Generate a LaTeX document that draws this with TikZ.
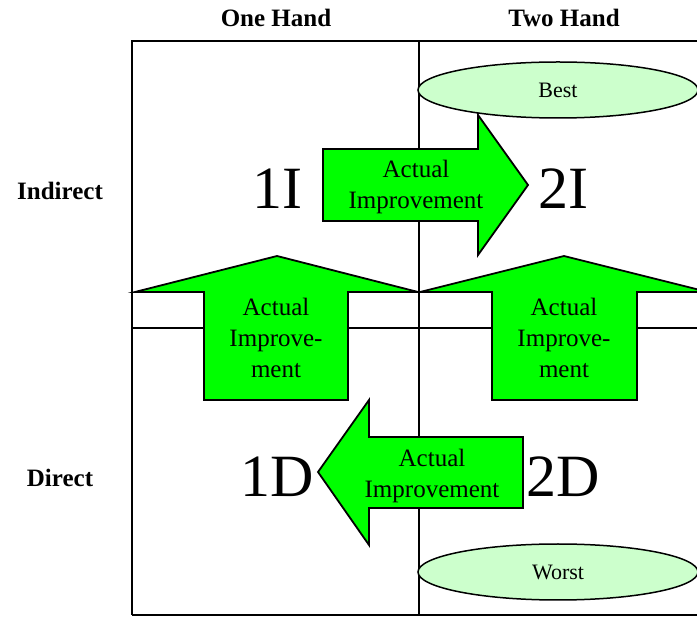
\documentclass[tikz,border=0pt]{standalone}
\usepackage{fontspec}
\setmainfont{Liberation Serif}
\definecolor{arrowgreen}{RGB}{0,255,0}
\definecolor{palegreen}{RGB}{204,255,204}
\tikzset{
  gridline/.style={line width=1.5pt},
  bigarrow/.style={draw, line width=1.8pt, fill=arrowgreen, line join=miter},
  arrowtext/.style={align=center, font=\fontsize{25}{31}\selectfont, inner sep=0pt},
  headlabel/.style={font=\fontsize{25}{30}\selectfont\bfseries},
  celllabel/.style={font=\fontsize{60}{60}\selectfont},
  rank/.style={ellipse, draw, line width=1.5pt, fill=palegreen, minimum width=280pt, minimum height=56pt, inner sep=0pt, font=\fontsize{22}{26}\selectfont}
}
\usetikzlibrary{shapes.geometric}
\begin{document}
\begin{tikzpicture}[x=1pt,y=-1pt]
    \useasboundingbox (0,0) rectangle (697,617);
    \clip (0,0) rectangle (697,617);

    % Rejilla
    \draw[gridline] (132,615) -- (132,41) -- (710,41);
    \draw[gridline] (132,615) -- (710,615);
    \draw[gridline] (419,41) -- (419,615);
    \draw[gridline] (132,328) -- (710,328);

    % Cabeceras
    \node[headlabel] (onehand) at (276,18) {One Hand};
    \node[headlabel] (twohand) at (564,18) {Two Hand};
    \node[headlabel] (indirect) at (60,191) {Indirect};
    \node[headlabel] (direct) at (60,478) {Direct};

    % Mejor y peor
    \node[rank] (best) at (558,90) {Best};
    \node[rank] (worst) at (558,572) {Worst};

    % Flechas de mejora
    \draw[bigarrow] (204,400) -- (204,292) -- (135,292) -- (277,256) -- (418,292) -- (348,292) -- (348,400) -- cycle;
    \node[arrowtext] (upleft) at (276,338) {Actual\\Improve-\\ment};

    \draw[bigarrow] (492,400) -- (492,292) -- (420,292) -- (564,256) -- (708,292) -- (637,292) -- (637,400) -- cycle;
    \node[arrowtext] (upright) at (564,338) {Actual\\Improve-\\ment};

    \draw[bigarrow] (323,149) -- (478,149) -- (478,115) -- (528,185) -- (478,255) -- (478,221) -- (323,221) -- cycle;
    \node[arrowtext] (rightarrow) at (416,187) {Actual\\Improvement};

    \draw[bigarrow] (523,437) -- (369,437) -- (369,400) -- (318,472) -- (369,545) -- (369,508) -- (523,508) -- cycle;
    \node[arrowtext] (leftarrow) at (432,476) {Actual\\Improvement};

    % Celdas
    \node[celllabel] (oneI) at (277,189) {1I};
    \node[celllabel] (twoI) at (563,189) {2I};
    \node[celllabel] (oneD) at (277,477) {1D};
    \node[celllabel] (twoD) at (563,477) {2D};
\end{tikzpicture}
\end{document}
